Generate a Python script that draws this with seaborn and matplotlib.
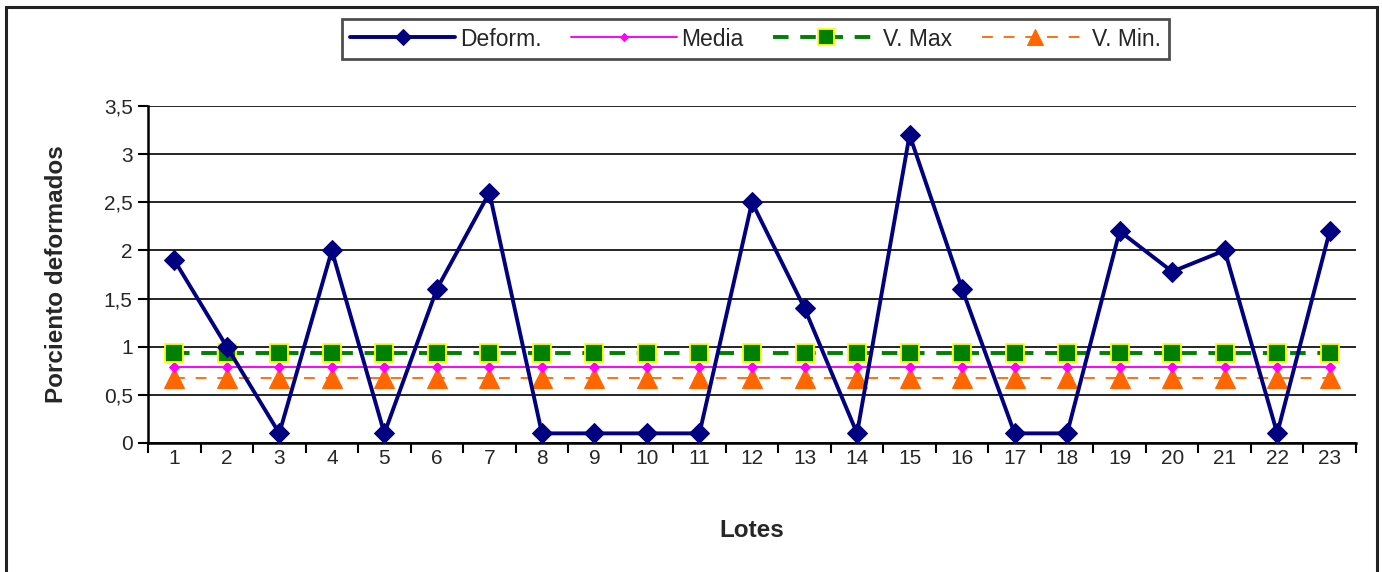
import matplotlib
matplotlib.use("Agg")
import matplotlib.pyplot as plt
import seaborn as sns
import pandas as pd
from matplotlib.patches import Rectangle
from matplotlib.ticker import FixedLocator, FuncFormatter

sns.set_theme(style="white")
plt.rcParams["font.family"] = ["Liberation Sans", "DejaVu Sans"]

lotes = [str(i) for i in range(1, 24)]
deform = [1.9, 1.0, 0.1, 2.0, 0.1, 1.6, 2.6, 0.1, 0.1, 0.1, 0.1, 2.5,
          1.4, 0.1, 3.2, 1.6, 0.1, 0.1, 2.2, 1.78, 2.0, 0.1, 2.2]
media = [0.79] * 23
v_max = [0.93] * 23
v_min = [0.67] * 23
y_ticks = [0, 0.5, 1, 1.5, 2, 2.5, 3, 3.5]

df = pd.DataFrame({"Lote": lotes, "Deform.": deform, "Media": media,
                   "V. Max": v_max, "V. Min.": v_min})
df["pos"] = range(len(df))

fig = plt.figure(figsize=(13.82, 5.72), dpi=100)
ax = fig.add_axes([148 / 1382, 1 - 443 / 572, (1356 - 148) / 1382, (443 - 106) / 572])

# outer chart border (open at the bottom)
fig.patches.append(Rectangle((6 / 1382, -0.05), (1377 - 6) / 1382, 1.05 - 7 / 572,
                             transform=fig.transFigure, fill=False,
                             edgecolor="#222222", linewidth=2.2, zorder=0))

sns.lineplot(data=df, x="pos", y="V. Min.", ax=ax, color="#FF6600", linewidth=1.3,
             linestyle=(0, (6, 6)), marker="^", markersize=14,
             markerfacecolor="#FF6600", markeredgecolor="#FF6600", label="V. Min.",
             legend=False, zorder=3)
sns.lineplot(data=df, x="pos", y="Media", ax=ax, color="#FF00FF", linewidth=1.4,
             marker="D", markersize=5, markerfacecolor="#FF00FF",
             markeredgecolor="#FF00FF", label="Media", legend=False, zorder=4)
sns.lineplot(data=df, x="pos", y="V. Max", ax=ax, color="#008000", linewidth=2.8,
             linestyle=(0, (4, 3)), marker="s", markersize=13,
             markerfacecolor="#008000", markeredgecolor="#FFFF00",
             markeredgewidth=1.3, label="V. Max", legend=False, zorder=5)
sns.lineplot(data=df, x="pos", y="Deform.", ax=ax, color="#000080", linewidth=2.8,
             marker="D", markersize=10, markerfacecolor="#000080",
             markeredgecolor="#000080", label="Deform.", legend=False, zorder=6)

ax.set_xlim(-0.5, 22.5)
ax.set_ylim(0, 3.5)
ax.yaxis.set_major_locator(FixedLocator(y_ticks))
ax.yaxis.set_major_formatter(FuncFormatter(lambda v, p: f"{v:g}".replace(".", ",")))
ax.set_xticks(df["pos"])
ax.set_xticklabels(lotes)
ax.xaxis.set_minor_locator(FixedLocator([i - 0.5 for i in range(24)]))
ax.tick_params(axis="x", which="major", length=0, pad=4, labelsize=15)
ax.tick_params(axis="x", which="minor", length=7, width=1.5, color="black", direction="out", bottom=True)
ax.tick_params(axis="y", which="major", length=7, width=1.5, color="black", direction="out",
               left=True, labelsize=15, pad=4)
ax.grid(axis="y", color="black", linewidth=1.2)
ax.grid(axis="x", visible=False)
ax.set_axisbelow(True)
for s in ["top", "right"]:
    ax.spines[s].set_visible(False)
for s in ["left", "bottom"]:
    ax.spines[s].set_color("black")
    ax.spines[s].set_linewidth(1.8)

ax.set_xlabel("Lotes", fontsize=17.5, fontweight="bold", labelpad=37)
ax.set_ylabel("Porciento deformados", fontsize=17.5, fontweight="bold", labelpad=26)

handles = {line.get_label(): line for line in ax.get_lines()}
order = ["Deform.", "Media", "V. Max", "V. Min."]
leg = fig.legend([handles[k] for k in order], order, loc="center",
                 bbox_to_anchor=((348 + 1163) / 2 / 1382, 1 - 39 / 572), ncol=4,
                 frameon=True, fancybox=False, fontsize=16.5, handlelength=4.6,
                 handletextpad=0.2, columnspacing=1.3, borderpad=0.35,
                 edgecolor="#222222")
leg.get_frame().set_linewidth(2)
for h in leg.legend_handles:
    h.set_markersize(h.get_markersize() * 0.85)

fig.savefig("out.png", dpi=100, facecolor="white")
